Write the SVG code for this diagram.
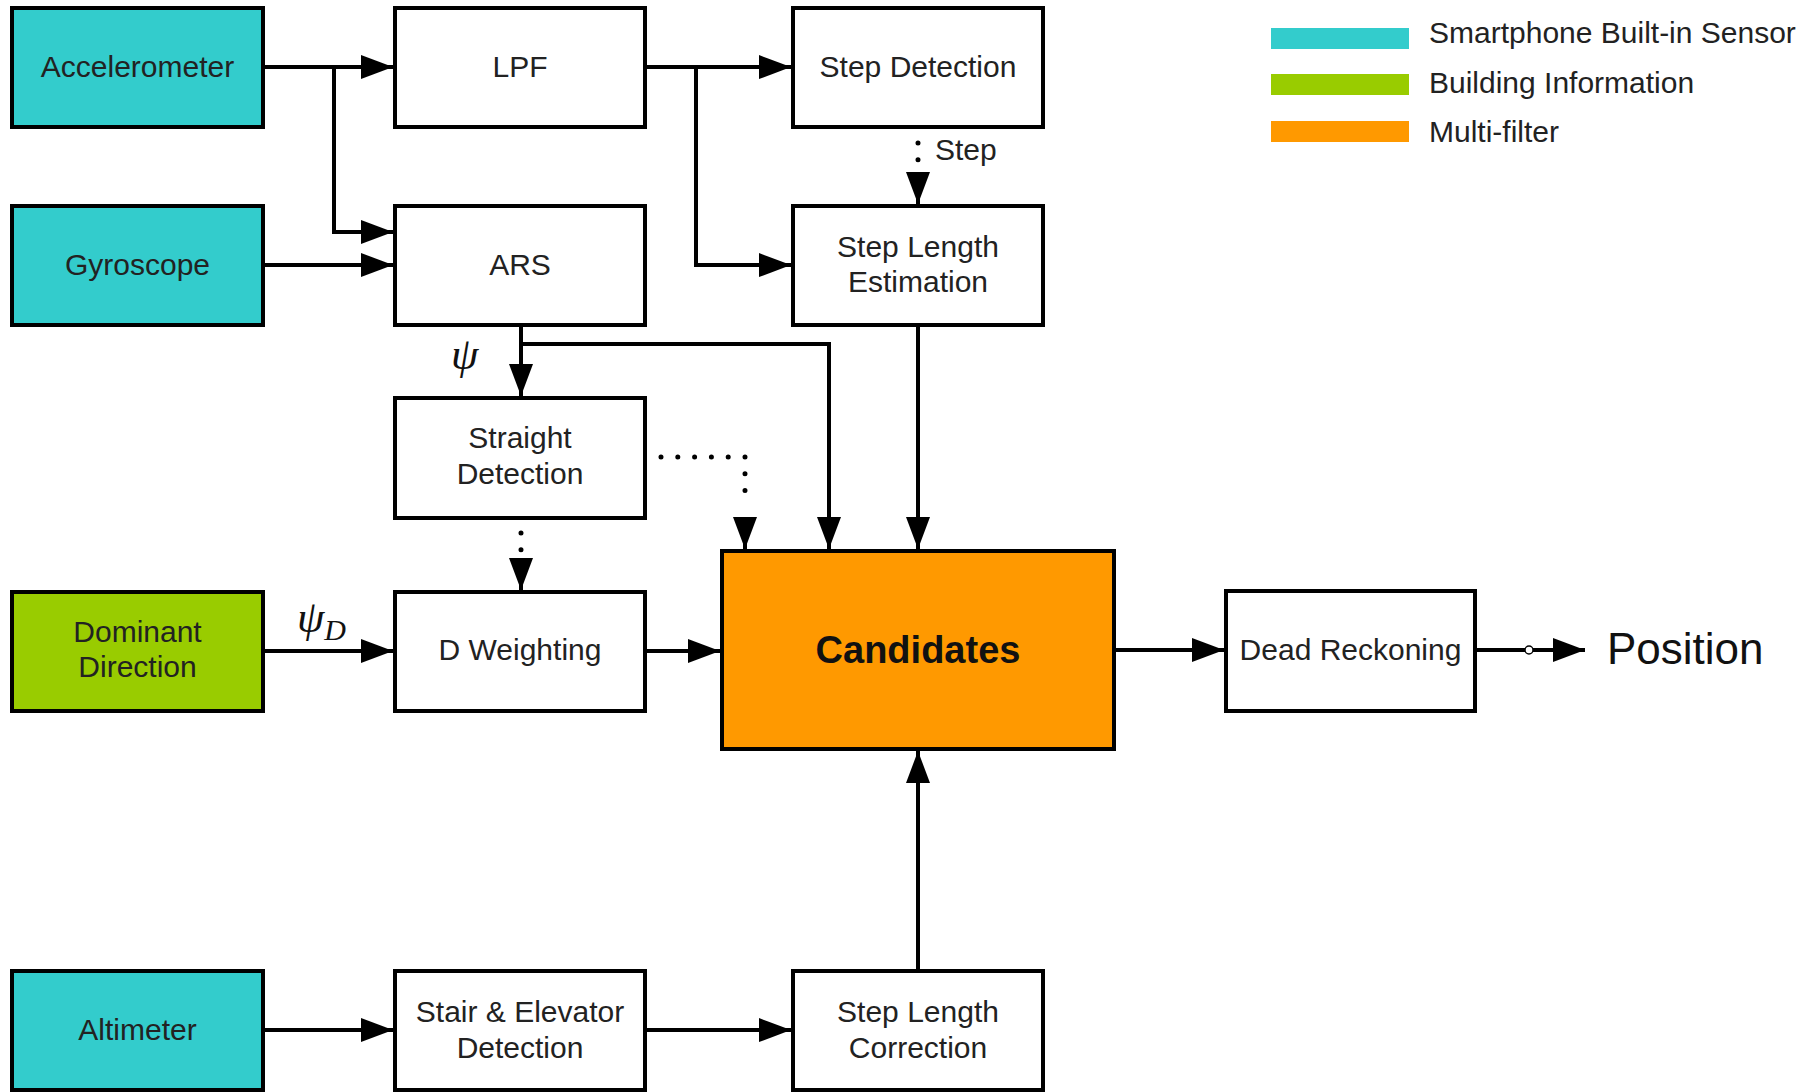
<svg xmlns="http://www.w3.org/2000/svg" width="1816" height="1092" viewBox="0 0 1816 1092">
<style>
.box{fill:#fff;stroke:#000;stroke-width:4}
.sensor{fill:#33CCCC}
.bld{fill:#99CC00}
.mf{fill:#FF9900}
.t{font-family:"Liberation Sans",Arial,sans-serif;font-size:30px;fill:#222;text-anchor:middle}
.lg{font-family:"Liberation Sans",Arial,sans-serif;font-size:30px;fill:#222}
.c{fill:none;stroke:#000;stroke-width:4}
.d{fill:none;stroke:#000;stroke-width:5;stroke-linecap:round;stroke-dasharray:0 16.8}
.g{font-family:"Liberation Serif","Times New Roman",serif;font-style:italic;fill:#111}
</style>
<defs>
<marker id="ah" markerUnits="userSpaceOnUse" markerWidth="32" markerHeight="24" viewBox="0 0 32 24" refX="32" refY="12" orient="auto">
<path d="M0,0 L32,12 L0,24 z" fill="#000"/>
</marker>
</defs>

<g id="legend">
<rect x="1271" y="28" width="138" height="21" fill="#33CCCC"/>
<rect x="1271" y="74" width="138" height="21" fill="#99CC00"/>
<rect x="1271" y="121" width="138" height="21" fill="#FF9900"/>
<text class="lg" x="1429" y="43">Smartphone Built-in Sensor</text>
<text class="lg" x="1429" y="93">Building Information</text>
<text class="lg" x="1429" y="142">Multi-filter</text>
</g>

<g id="connectors">
<path class="c" d="M263,67 H393" marker-end="url(#ah)"/>
<path class="c" d="M334,67 V232 H393" marker-end="url(#ah)"/>
<path class="c" d="M263,265 H393" marker-end="url(#ah)"/>
<path class="c" d="M645,67 H791" marker-end="url(#ah)"/>
<path class="c" d="M696,67 V265 H791" marker-end="url(#ah)"/>
<path class="d" d="M918,143 V160"/>
<path class="c" d="M918,172 V204" stroke="none" marker-end="url(#ah)"/>
<path class="c" d="M521,325 V396" marker-end="url(#ah)"/>
<path class="c" d="M521,344 H829 V549" marker-end="url(#ah)"/>
<path class="c" d="M918,325 V549" marker-end="url(#ah)"/>
<path class="d" d="M661,457 H745 V507"/>
<path class="c" d="M745,517 V549" stroke="none" marker-end="url(#ah)"/>
<path class="d" d="M521,533 V550"/>
<path class="c" d="M521,558 V590" stroke="none" marker-end="url(#ah)"/>
<path class="c" d="M263,651 H393" marker-end="url(#ah)"/>
<path class="c" d="M645,651 H720" marker-end="url(#ah)"/>
<path class="c" d="M1114,650 H1224" marker-end="url(#ah)"/>
<path class="c" d="M1475,650 H1525"/>
<circle cx="1529" cy="650" r="4" fill="#fff" stroke="#000" stroke-width="1.5"/>
<path class="c" d="M1533,650 H1585" marker-end="url(#ah)"/>
<path class="c" d="M263,1030 H393" marker-end="url(#ah)"/>
<path class="c" d="M645,1030 H791" marker-end="url(#ah)"/>
<path class="c" d="M918,971 V751" marker-end="url(#ah)"/>
<text class="lg" x="935" y="160">Step</text>
<text class="g" x="451" y="369" font-size="44">ψ</text>
<text class="g" x="297" y="632" font-size="44">ψ<tspan font-size="30" dy="8">D</tspan></text>
</g>

<g id="accelerometer"><rect class="box sensor" x="12" y="8" width="251" height="119"/><text class="t" x="137.5" y="77">Accelerometer</text></g>
<g id="gyroscope"><rect class="box sensor" x="12" y="206" width="251" height="119"/><text class="t" x="137.5" y="275">Gyroscope</text></g>
<g id="lpf"><rect class="box" x="395" y="8" width="250" height="119"/><text class="t" x="520" y="77">LPF</text></g>
<g id="ars"><rect class="box" x="395" y="206" width="250" height="119"/><text class="t" x="520" y="275">ARS</text></g>
<g id="step-detection"><rect class="box" x="793" y="8" width="250" height="119"/><text class="t" x="918" y="77">Step Detection</text></g>
<g id="step-length-estimation"><rect class="box" x="793" y="206" width="250" height="119"/><text class="t" x="918" y="257">Step Length</text><text class="t" x="918" y="292">Estimation</text></g>
<g id="straight-detection"><rect class="box" x="395" y="398" width="250" height="120"/><text class="t" x="520" y="448">Straight</text><text class="t" x="520" y="484">Detection</text></g>
<g id="dominant-direction"><rect class="box bld" x="12" y="592" width="251" height="119"/><text class="t" x="137.5" y="642">Dominant</text><text class="t" x="137.5" y="677">Direction</text></g>
<g id="d-weighting"><rect class="box" x="395" y="592" width="250" height="119"/><text class="t" x="520" y="660">D Weighting</text></g>
<g id="candidates"><rect class="box mf" x="722" y="551" width="392" height="198"/><text x="918" y="663" font-family="Liberation Sans,Arial,sans-serif" font-size="38" font-weight="bold" fill="#111" text-anchor="middle">Candidates</text></g>
<g id="dead-reckoning"><rect class="box" x="1226" y="591" width="249" height="120"/><text class="t" x="1350.5" y="660">Dead Reckoning</text></g>
<g id="position"><text x="1607" y="664" font-family="Liberation Sans,Arial,sans-serif" font-size="44" fill="#111">Position</text></g>
<g id="altimeter"><rect class="box sensor" x="12" y="971" width="251" height="119"/><text class="t" x="137.5" y="1040">Altimeter</text></g>
<g id="stair-elevator-detection"><rect class="box" x="395" y="971" width="250" height="119"/><text class="t" x="520" y="1022">Stair &amp; Elevator</text><text class="t" x="520" y="1058">Detection</text></g>
<g id="step-length-correction"><rect class="box" x="793" y="971" width="250" height="119"/><text class="t" x="918" y="1022">Step Length</text><text class="t" x="918" y="1058">Correction</text></g>
</svg>
